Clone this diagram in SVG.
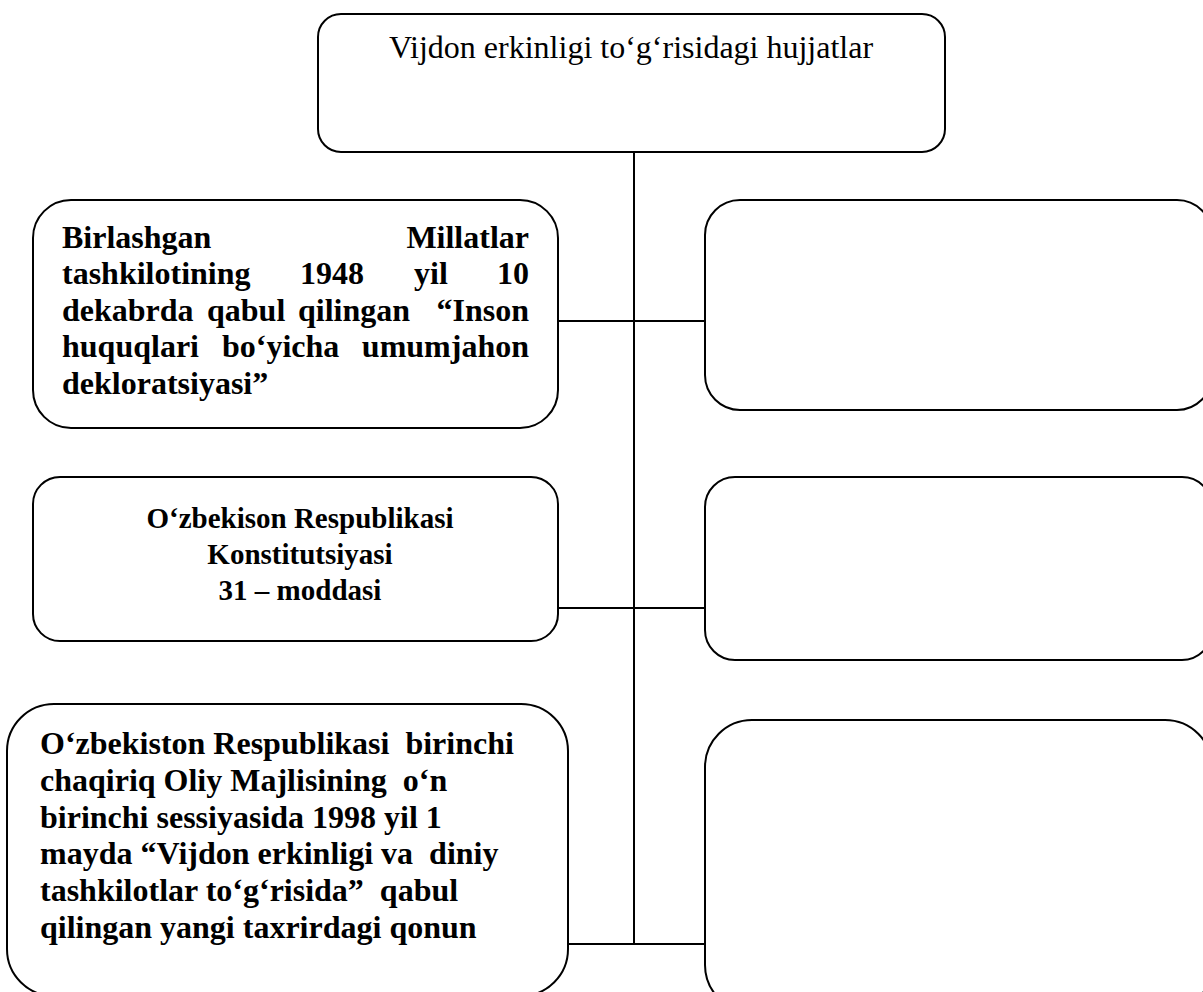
<svg xmlns="http://www.w3.org/2000/svg" width="1203" height="992" viewBox="0 0 1203 992">
<style>
.box{fill:#fff;stroke:#000;stroke-width:2}
.c{fill:none;stroke:#000;stroke-width:2}
.t{font-family:"Liberation Serif","Times New Roman",serif;font-size:32px;fill:#000}
.b{font-weight:bold}
.s{font-size:29px}
</style>
<rect width="1203" height="992" fill="#fff"/>
<g id="connectors">
<line class="c" x1="634" y1="152" x2="634" y2="944"/>
<line class="c" x1="558" y1="321" x2="705" y2="321"/>
<line class="c" x1="558" y1="608" x2="705" y2="608"/>
<line class="c" x1="568" y1="944" x2="705" y2="944"/>
</g>
<g id="top">
<rect class="box" x="318" y="14" width="627" height="138" rx="23"/>
<text class="t" x="631" y="58" text-anchor="middle">Vijdon erkinligi to‘g‘risidagi hujjatlar</text>
</g>
<g id="left1">
<rect class="box" x="33" y="200" width="525" height="228" rx="38"/>
<text class="t b" y="248"><tspan x="62">Birlashgan</tspan><tspan x="529" text-anchor="end">Millatlar</tspan></text>
<text class="t b" y="284"><tspan x="62">tashkilotining</tspan><tspan x="300">1948</tspan><tspan x="414">yil</tspan><tspan x="529" text-anchor="end">10</tspan></text>
<text class="t b" y="321"><tspan x="62">dekabrda</tspan><tspan x="207">qabul</tspan><tspan x="298">qilingan</tspan><tspan x="529" text-anchor="end">“Inson</tspan></text>
<text class="t b" y="357"><tspan x="62">huquqlari</tspan><tspan x="222">bo‘yicha</tspan><tspan x="529" text-anchor="end">umumjahon</tspan></text>
<text class="t b" x="62" y="394">dekloratsiyasi”</text>
</g>
<g id="left2">
<rect class="box" x="33" y="477" width="525" height="164" rx="27"/>
<text class="t b s" text-anchor="middle"><tspan x="300" y="528">O‘zbekison Respublikasi</tspan><tspan x="300" y="564">Konstitutsiyasi</tspan><tspan x="300" y="600">31 – moddasi</tspan></text>
</g>
<g id="left3">
<rect class="box" x="7" y="704" width="561" height="292" rx="47"/>
<text class="t b" xml:space="preserve"><tspan x="40" y="754">O‘zbekiston Respublikasi  birinchi</tspan><tspan x="40" y="791">chaqiriq Oliy Majlisining  o‘n</tspan><tspan x="40" y="828">birinchi sessiyasida 1998 yil 1</tspan><tspan x="40" y="864">mayda “Vijdon erkinligi va  diniy</tspan><tspan x="40" y="901">tashkilotlar to‘g‘risida”  qabul</tspan><tspan x="40" y="938">qilingan yangi taxrirdagi qonun</tspan></text>
</g>
<g id="right1"><rect class="box" x="705" y="200" width="507" height="210" rx="35"/></g>
<g id="right2"><rect class="box" x="705" y="477" width="507" height="183" rx="30"/></g>
<g id="right3"><rect class="box" x="705" y="720" width="507" height="292" rx="47"/></g>
</svg>
